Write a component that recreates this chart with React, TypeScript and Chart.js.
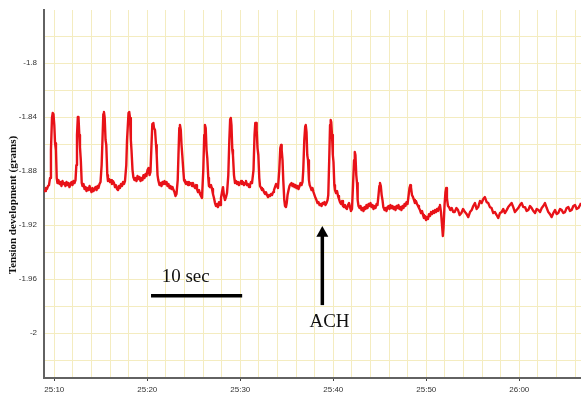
import React, { useEffect, useRef } from "react";
import { Chart, registerables } from "chart.js";

Chart.register(...registerables);

// Time in seconds after 25:00 (mm:ss clock of the recording)
const timeSec: number[] = [
  8.89, 9.00, 9.10, 9.21, 9.32, 9.43, 9.54, 9.64, 9.75, 9.83, 9.91, 10.00, 10.08, 10.18, 10.26, 10.34,
  10.45, 10.56, 10.67, 10.77, 10.88, 10.99, 11.10, 11.20, 11.31, 11.42, 11.53, 11.63, 11.74, 11.85, 11.96, 12.06, 12.17, 12.28,
  12.37, 12.44, 12.53, 12.60, 12.69, 12.76, 12.85, 12.95,
  13.03, 13.14, 13.25, 13.36, 13.46, 13.57, 13.68, 13.79, 13.89, 14.00, 14.11, 14.22, 14.32, 14.43, 14.54, 14.65, 14.75, 14.86, 14.97,
  15.09, 15.18, 15.27, 15.34, 15.42, 15.51, 15.59, 15.70, 15.77,
  15.88, 15.99, 16.10, 16.20, 16.31, 16.42, 16.53, 16.63, 16.74, 16.85, 16.96, 17.06, 17.17, 17.28, 17.39, 17.49, 17.60,
  17.74, 17.82, 17.98, 18.06, 18.14, 18.23, 18.30, 18.41, 18.50,
  18.62, 18.73, 18.84, 18.95, 19.05, 19.16, 19.27, 19.38, 19.48, 19.59, 19.70, 19.81, 19.91, 20.02, 20.13, 20.24, 20.34,
  20.43, 20.54, 20.65, 20.72, 20.83, 20.94, 21.01, 21.10, 21.18,
  21.31, 21.42, 21.53, 21.63, 21.74, 21.85, 21.96, 22.07, 22.17, 22.28, 22.39, 22.50, 22.60, 22.71, 22.82, 22.92, 23.03, 23.14,
  23.27, 23.35, 23.44, 23.51, 23.60, 23.68, 23.76, 23.87, 23.95,
  24.05, 24.16, 24.27, 24.38, 24.48, 24.59, 24.70, 24.81, 24.91, 25.02, 25.13, 25.24, 25.34, 25.45, 25.56, 25.67, 25.77, 25.88,
  26.02, 26.12, 26.20, 26.28, 26.37, 26.45, 26.56, 26.63,
  26.74, 26.85, 26.96, 27.06, 27.17, 27.28, 27.39, 27.49, 27.60, 27.71, 27.82, 27.92, 28.03, 28.14, 28.25, 28.35, 28.46, 28.57,
  28.71, 28.82, 28.91, 28.98, 29.05, 29.14, 29.21, 29.32, 29.43,
  29.54, 29.65, 29.75, 29.86, 29.97, 30.08, 30.18, 30.29, 30.40, 30.51, 30.61, 30.72, 30.83, 30.94, 31.04, 31.15, 31.26,
  31.42, 31.53, 31.61, 31.69, 31.76, 31.85, 31.94, 32.04, 32.12,
  32.23, 32.33, 32.44, 32.55, 32.66, 32.76, 32.87, 32.98, 33.09, 33.19, 33.30, 33.41, 33.52, 33.62, 33.73, 33.84, 33.95, 34.05,
  34.19, 34.30, 34.38, 34.45, 34.54, 34.62, 34.73, 34.81, 34.91, 34.99,
  35.08, 35.19, 35.29, 35.40, 35.51, 35.61, 35.72, 35.83, 35.94, 36.04, 36.15, 36.26, 36.37, 36.47, 36.58, 36.69,
  36.77, 36.88, 36.98, 37.04, 37.12, 37.20, 37.28, 37.38, 37.46,
  37.55, 37.66, 37.76, 37.87, 37.98, 38.09, 38.19, 38.30, 38.41, 38.52, 38.62, 38.73, 38.84, 38.95, 39.05, 39.16, 39.27, 39.38, 39.46,
  39.56, 39.65, 39.72, 39.78, 39.86, 39.95, 40.02, 40.11, 40.18,
  40.29, 40.40, 40.51, 40.61, 40.72, 40.83, 40.94, 41.04, 41.15, 41.26, 41.37, 41.47, 41.58, 41.69, 41.80, 41.90, 42.01,
  42.12, 42.23, 42.31, 42.38, 42.47, 42.55, 42.62, 42.71,
  42.82, 42.93, 43.03, 43.14, 43.25, 43.36, 43.46, 43.57, 43.68, 43.79, 43.89, 44.00, 44.11, 44.22, 44.32, 44.43, 44.54, 44.65, 44.75,
  44.86, 44.95, 45.02, 45.11, 45.20, 45.29, 45.38,
  45.51, 45.61, 45.72, 45.83, 45.94, 46.04, 46.15, 46.26, 46.37, 46.47, 46.58, 46.69, 46.80, 46.90, 47.01, 47.12, 47.23, 47.33, 47.44, 47.55, 47.66, 47.76, 47.87, 47.98,
  48.09, 48.19, 48.28, 48.35, 48.46, 48.57, 48.68,
  48.78, 48.89, 49.00, 49.11, 49.21, 49.32, 49.43, 49.54, 49.65, 49.75, 49.86, 49.97, 50.08, 50.18, 50.29, 50.40, 50.51, 50.61, 50.72, 50.83, 50.94, 51.04, 51.15, 51.26, 51.37, 51.47, 51.58, 51.69, 51.78, 51.85, 51.96, 52.06, 52.14, 52.22, 52.33,
  52.44, 52.58, 52.73, 52.90, 53.05, 53.24, 53.41, 53.59, 53.77, 53.95,
  54.16, 54.34, 54.51, 54.70, 54.88, 55.05, 55.23, 55.41, 55.58, 55.77,
  55.95, 56.12, 56.30, 56.49, 56.66, 56.84, 57.02, 57.20, 57.38, 57.56,
  57.73, 57.92, 58.10, 58.27, 58.45, 58.64, 58.81, 58.99, 59.17, 59.35,
  59.53, 59.71, 59.89, 60.07, 60.25, 60.43, 60.61, 60.79, 60.97, 61.15,
  61.33, 61.51, 61.69, 61.87, 62.05, 62.23, 62.41, 62.58, 62.76, 62.95,
  63.12, 63.30, 63.48, 63.66, 63.84, 64.02, 64.19, 64.38, 64.56, 64.73,
  64.91, 65.09, 65.27, 65.45, 65.63, 65.81, 65.99, 66.17, 66.35, 66.53,
  66.64,
];

// Tension development (grams)
const tension: number[] = [
  -1.8941, -1.8948, -1.8926, -1.8933, -1.8911, -1.8904, -1.8852, -1.8644, -1.8407, -1.8370, -1.8378, -1.8459, -1.8593, -1.8644, -1.8852, -1.8889,
  -1.8867, -1.8896, -1.8881, -1.8911, -1.8874, -1.8896, -1.8889, -1.8911, -1.8881, -1.8904, -1.8889, -1.8919, -1.8896, -1.8881, -1.8904, -1.8874, -1.8889, -1.8867,
  -1.8756, -1.8533, -1.8400, -1.8400, -1.8533, -1.8622, -1.8719, -1.8889,
  -1.8911, -1.8896, -1.8933, -1.8919, -1.8948, -1.8926, -1.8941, -1.8911, -1.8933, -1.8956, -1.8926, -1.8948, -1.8933, -1.8919, -1.8941, -1.8911, -1.8926, -1.8896, -1.8881,
  -1.8756, -1.8570, -1.8378, -1.8363, -1.8407, -1.8570, -1.8607, -1.8830, -1.8874,
  -1.8859, -1.8881, -1.8867, -1.8896, -1.8874, -1.8889, -1.8919, -1.8904, -1.8933, -1.8941, -1.8911, -1.8926, -1.8896, -1.8911, -1.8881, -1.8896, -1.8874,
  -1.8756, -1.8570, -1.8370, -1.8363, -1.8407, -1.8570, -1.8644, -1.8793, -1.8844,
  -1.8867, -1.8852, -1.8874, -1.8837, -1.8859, -1.8844, -1.8874, -1.8852, -1.8867, -1.8830, -1.8852, -1.8822, -1.8837, -1.8793, -1.8778, -1.8830, -1.8807,
  -1.8644, -1.8452, -1.8444, -1.8481, -1.8496, -1.8607, -1.8681, -1.8830, -1.8867,
  -1.8904, -1.8889, -1.8911, -1.8881, -1.8896, -1.8874, -1.8896, -1.8881, -1.8911, -1.8896, -1.8926, -1.8911, -1.8933, -1.8919, -1.8941, -1.8956, -1.8985, -1.8970,
  -1.8867, -1.8681, -1.8481, -1.8459, -1.8496, -1.8607, -1.8681, -1.8793, -1.8867,
  -1.8881, -1.8896, -1.8881, -1.8904, -1.8881, -1.8896, -1.8889, -1.8911, -1.8889, -1.8911, -1.8926, -1.8904, -1.8933, -1.8956, -1.8941, -1.8970, -1.8985, -1.9000,
  -1.8793, -1.8533, -1.8459, -1.8481, -1.8644, -1.8704, -1.8852, -1.8911,
  -1.8919, -1.8904, -1.8933, -1.8970, -1.9000, -1.9037, -1.9059, -1.9044, -1.9067, -1.9030, -1.9052, -1.9000, -1.8956, -1.8919, -1.8985, -1.9015, -1.8993, -1.8963,
  -1.8830, -1.8570, -1.8415, -1.8407, -1.8459, -1.8644, -1.8681, -1.8830, -1.8889,
  -1.8874, -1.8896, -1.8881, -1.8904, -1.8889, -1.8874, -1.8896, -1.8881, -1.8904, -1.8889, -1.8874, -1.8904, -1.8896, -1.8919, -1.8904, -1.8881, -1.8889,
  -1.8793, -1.8533, -1.8444, -1.8444, -1.8496, -1.8630, -1.8681, -1.8852, -1.8911,
  -1.8926, -1.8941, -1.8933, -1.8956, -1.8970, -1.8956, -1.8978, -1.8993, -1.8978, -1.8985, -1.8970, -1.8978, -1.8956, -1.8941, -1.8919, -1.8896, -1.8911, -1.8926,
  -1.8793, -1.8630, -1.8607, -1.8644, -1.8719, -1.8867, -1.9015, -1.9059, -1.9067, -1.9037,
  -1.8978, -1.8941, -1.8911, -1.8896, -1.8889, -1.8911, -1.8896, -1.8919, -1.8904, -1.8926, -1.8911, -1.8933, -1.8911, -1.8889, -1.8904, -1.8881,
  -1.8793, -1.8570, -1.8467, -1.8459, -1.8511, -1.8681, -1.8719, -1.8867, -1.8904,
  -1.8919, -1.8941, -1.8926, -1.8956, -1.8978, -1.9000, -1.9015, -1.9037, -1.9030, -1.9052, -1.9044, -1.9059, -1.9037, -1.9044, -1.9030, -1.9052, -1.9037, -1.9015, -1.8978,
  -1.8719, -1.8459, -1.8422, -1.8437, -1.8533, -1.8681, -1.8733, -1.8904, -1.8941,
  -1.8963, -1.8948, -1.8985, -1.9007, -1.9030, -1.9044, -1.9022, -1.9059, -1.9067, -1.9052, -1.9074, -1.9081, -1.9052, -1.9037, -1.9067, -1.9096, -1.9081,
  -1.8904, -1.8719, -1.8659, -1.8681, -1.8830, -1.8889, -1.9015, -1.9059,
  -1.9074, -1.9059, -1.9089, -1.9074, -1.9096, -1.9067, -1.9081, -1.9052, -1.9074, -1.9044, -1.9059, -1.9037, -1.9067, -1.9052, -1.9081, -1.9059, -1.9074, -1.9044, -1.9052,
  -1.8978, -1.8911, -1.8889, -1.8911, -1.8978, -1.9015, -1.9067,
  -1.9089, -1.9074, -1.9096, -1.9067, -1.9059, -1.9081, -1.9052, -1.9074, -1.9059, -1.9081, -1.9067, -1.9089, -1.9059, -1.9074, -1.9052, -1.9081, -1.9067, -1.9089, -1.9059, -1.9074, -1.9044, -1.9059, -1.9030, -1.9044,
  -1.8985, -1.8926, -1.8904, -1.8919, -1.8978, -1.8993, -1.9015,
  -1.9037, -1.9022, -1.9044, -1.9059, -1.9074, -1.9089, -1.9111, -1.9096, -1.9126, -1.9148, -1.9133, -1.9163, -1.9141, -1.9156, -1.9119, -1.9133, -1.9104, -1.9119, -1.9096, -1.9111, -1.9089, -1.9104, -1.9081, -1.9096, -1.9067, -1.9052, -1.9104, -1.9200, -1.9281, -1.9222, -1.9052, -1.8956, -1.8926, -1.9000, -1.9059,
  -1.9067, -1.9089, -1.9074, -1.9104, -1.9104, -1.9074, -1.9089, -1.9126, -1.9111, -1.9081,
  -1.9104, -1.9119, -1.9141, -1.9104, -1.9089, -1.9059, -1.9037, -1.9081, -1.9067, -1.9022,
  -1.9037, -1.9007, -1.8993, -1.9030, -1.9037, -1.9067, -1.9074, -1.9111, -1.9104, -1.9126,
  -1.9148, -1.9111, -1.9104, -1.9081, -1.9111, -1.9089, -1.9067, -1.9052, -1.9037, -1.9067,
  -1.9104, -1.9089, -1.9074, -1.9052, -1.9037, -1.9067, -1.9067, -1.9096, -1.9089, -1.9059,
  -1.9074, -1.9096, -1.9111, -1.9081, -1.9089, -1.9104, -1.9074, -1.9059, -1.9037, -1.9074,
  -1.9104, -1.9119, -1.9141, -1.9111, -1.9089, -1.9119, -1.9111, -1.9081, -1.9089, -1.9111,
  -1.9104, -1.9074, -1.9067, -1.9096, -1.9089, -1.9059, -1.9052, -1.9081, -1.9074, -1.9052,
  -1.9037,
];

// Axis ranges and tick labels
const xRange = [8.892, 66.634];
const yRange = [-2.0333, -1.7607];
const xTickSeconds = [10, 20, 30, 40, 50, 60];
const xTickLabels = ["25:10", "25:20", "25:30", "25:40", "25:50", "26:00"];
const yTickValues = [-1.8, -1.84, -1.88, -1.92, -1.96, -2];
const yTickLabels = ["-1.8", "-1.84", "-1.88", "-1.92", "-1.96", "-2"];
const yTitle = "Tension development (grams)";

// Annotations (in data units)
const scaleBarLabel = "10 sec";
const scaleBarSec = [20.4, 30.2];
const scaleBarLevel = -1.9724;
const scaleBarLabelAt = [21.55, -1.9624];
const achLabel = "ACH";
const achArrowSec = 38.82;
const achArrowLevels = [-1.9207, -1.9286, -1.9793]; // tip, head base, tail
const achLabelAt = [39.59, -1.9953];

const RED = "rgb(232,18,24)";
const GRID = "rgb(244,236,192)";
const AXIS = "#626262";

function findLabel(values: number[], labels: string[], v: number): string {
  for (let i = 0; i < values.length; i++) {
    if (Math.abs(values[i] - v) < 1e-6) return labels[i];
  }
  return "";
}

const annotatePlugin = {
  id: "annotate",
  afterDatasetsDraw(chart: any) {
    const { ctx, scales, chartArea } = chart;
    const x = scales.x;
    const y = scales.y;
    ctx.save();

    // Y title
    ctx.save();
    ctx.translate(15.5, (chartArea.top + chartArea.bottom) / 2 + 11);
    ctx.rotate(-Math.PI / 2);
    ctx.font = 'bold 11px "Liberation Serif", "Times New Roman", serif';
    ctx.fillStyle = "#111";
    ctx.textAlign = "center";
    ctx.textBaseline = "alphabetic";
    ctx.fillText(yTitle, 0, 0);
    ctx.restore();

    // Scale bar
    ctx.strokeStyle = "#000";
    ctx.lineWidth = 3.5;
    ctx.lineCap = "butt";
    ctx.beginPath();
    const sbY = y.getPixelForValue(scaleBarLevel);
    ctx.moveTo(x.getPixelForValue(scaleBarSec[0]), sbY);
    ctx.lineTo(x.getPixelForValue(scaleBarSec[1]), sbY);
    ctx.stroke();

    ctx.font = '19px "Liberation Serif", "Times New Roman", serif';
    ctx.fillStyle = "#111";
    ctx.textAlign = "left";
    ctx.textBaseline = "alphabetic";
    ctx.fillText(scaleBarLabel, x.getPixelForValue(scaleBarLabelAt[0]), y.getPixelForValue(scaleBarLabelAt[1]));

    // ACH arrow
    const ax = x.getPixelForValue(achArrowSec);
    const tipY = y.getPixelForValue(achArrowLevels[0]);
    const baseY = y.getPixelForValue(achArrowLevels[1]);
    const tailY = y.getPixelForValue(achArrowLevels[2]);
    ctx.beginPath();
    ctx.moveTo(ax, tailY);
    ctx.lineTo(ax, baseY - 1);
    ctx.stroke();
    ctx.fillStyle = "#000";
    ctx.beginPath();
    ctx.moveTo(ax, tipY);
    ctx.lineTo(ax - 6, baseY);
    ctx.lineTo(ax + 6, baseY);
    ctx.closePath();
    ctx.fill();

    ctx.fillStyle = "#111";
    ctx.textAlign = "center";
    ctx.fillText(achLabel, x.getPixelForValue(achLabelAt[0]), y.getPixelForValue(achLabelAt[1]));

    ctx.restore();
  },
};

export default function App() {
  const ref = useRef<HTMLCanvasElement>(null);

  useEffect(() => {
    const canvas = ref.current;
    if (!canvas) return;
    const n = Math.min(timeSec.length, tension.length);
    const points: { x: number; y: number }[] = [];
    for (let i = 0; i < n; i++) points.push({ x: timeSec[i], y: tension[i] });

    const tickFont = { family: '"Liberation Sans", Arial, sans-serif', size: 8 };

    const chart = new Chart(canvas, {
      type: "line",
      data: {
        datasets: [
          {
            data: points,
            borderColor: RED,
            borderWidth: 2.4,
            borderJoinStyle: "round",
            pointRadius: 0,
            tension: 0,
            fill: false,
          },
        ],
      },
      options: {
        responsive: false,
        maintainAspectRatio: false,
        animation: false,
        devicePixelRatio: 1,
        layout: { padding: { top: 10, left: 0, right: 0, bottom: 0 } },
        plugins: { legend: { display: false }, tooltip: { enabled: false } },
        scales: {
          x: {
            type: "linear",
            min: xRange[0],
            max: xRange[1],
            ticks: {
              stepSize: 2,
              includeBounds: false,
              autoSkip: false,
              maxRotation: 0,
              minRotation: 0,
              padding: 4,
              color: "#333",
              font: tickFont,
              callback: (v: any) => findLabel(xTickSeconds, xTickLabels, Number(v)),
            },
            grid: {
              color: GRID,
              lineWidth: 1,
              tickLength: 3,
              tickColor: (c: any) =>
                c.tick && findLabel(xTickSeconds, xTickLabels, c.tick.value) !== "" ? "#444" : "rgba(0,0,0,0)",
            },
            border: { display: true, color: AXIS, width: 2 },
            afterFit: (s: any) => {
              s.height = 19;
            },
          },
          y: {
            type: "linear",
            min: yRange[0],
            max: yRange[1],
            ticks: {
              stepSize: 0.02,
              includeBounds: false,
              autoSkip: false,
              padding: 4,
              color: "#333",
              font: tickFont,
              callback: (v: any) => findLabel(yTickValues, yTickLabels, Number(v)),
            },
            grid: {
              color: GRID,
              lineWidth: 1,
              tickLength: 3,
              tickColor: "rgba(0,0,0,0)",
            },
            border: { display: true, color: AXIS, width: 2 },
            afterFit: (s: any) => {
              s.width = 44;
            },
          },
        },
      },
      plugins: [annotatePlugin],
    } as any);

    return () => chart.destroy();
  }, []);

  return (
    <div style={{ position: "fixed", left: 0, top: 0, width: 581, height: 397, background: "#fff" }}>
      <canvas ref={ref} width={581} height={397} style={{ display: "block", width: 581, height: 397 }} />
    </div>
  );
}
